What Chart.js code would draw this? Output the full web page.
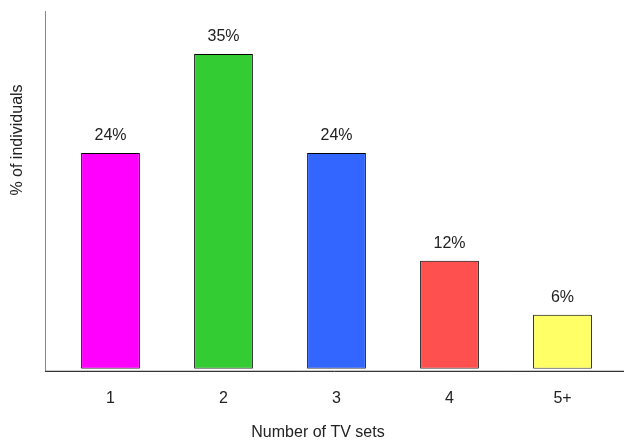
<!DOCTYPE html>
<html>
<head>
<meta charset="utf-8">
<script src="https://cdn.jsdelivr.net/npm/chart.js@4"></script>
<style>
  html, body { margin: 0; padding: 0; background: #fff; }
  #wrap { width: 624px; height: 442px; }
</style>
</head>
<body>
<div id="wrap"><canvas id="myChart" width="624" height="442"></canvas></div>
<script>
let tvSets = ["1", "2", "3", "4", "5+"];
let shares = [24, 35, 24, 12, 6];
let barColors = ["#ff00ff", "#33cc33", "#3366ff", "#ff5050", "#ffff66"];
let yMin = 0;
let yMax = 40;
let xTitle = "Number of TV sets";
let yTitle = "% of individuals";

// value labels over the bars, axis lines and both titles
let decorations = {
  id: "decorations",
  afterDatasetsDraw(chart) {
    let c = chart.ctx;
    let area = chart.chartArea;
    let meta = chart.getDatasetMeta(0);
    c.save();
    c.fillStyle = "#222";
    c.font = "16px 'Liberation Sans', Arial, sans-serif";
    c.textAlign = "center";
    c.textBaseline = "middle";
    meta.data.forEach((bar, i) => {
      c.fillText(shares[i] + "%", bar.x, bar.y - 17);
    });

    c.lineWidth = 1;
    c.strokeStyle = "#888";
    c.beginPath();
    c.moveTo(45.5, 11);
    c.lineTo(45.5, area.bottom + 2);
    c.stroke();

    c.strokeStyle = "#000";
    c.beginPath();
    c.moveTo(45, area.bottom + 2.5);
    c.lineTo(chart.width, area.bottom + 2.5);
    c.stroke();

    c.fillText(xTitle, 318, 433);

    // y title sits above the middle of the axis
    c.translate(18, 140);
    c.rotate(-Math.PI / 2);
    c.fillText(yTitle, 0, 0);
    c.restore();
  }
};

let ctx = document.getElementById("myChart").getContext("2d");
let myChart = new Chart(ctx, {
  type: "bar",
  data: {
    labels: tvSets,
    datasets: [{
      data: shares,
      backgroundColor: barColors,
      borderColor: "#000",
      borderWidth: 1,
      borderSkipped: false,
      categoryPercentage: 1,
      barPercentage: 0.52
    }]
  },
  options: {
    responsive: false,
    animation: false,
    layout: { padding: { left: 54, right: 5, top: 9, bottom: 14 } },
    plugins: {
      legend: { display: false },
      tooltip: { enabled: false }
    },
    scales: {
      x: {
        grid: { display: false, drawTicks: false },
        border: { display: false },
        ticks: {
          padding: 20,
          color: "#222",
          font: { family: "'Liberation Sans', Arial, sans-serif", size: 16 }
        }
      },
      y: {
        display: false,
        min: yMin,
        max: yMax
      }
    }
  },
  plugins: [decorations]
});
</script>
</body>
</html>
